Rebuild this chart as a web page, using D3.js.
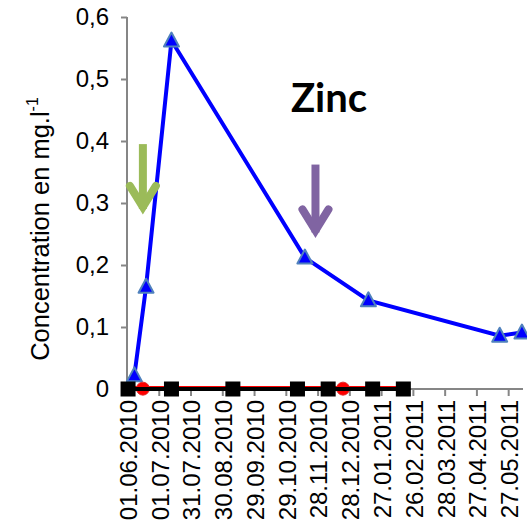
<!DOCTYPE html>
<html>
<head>
<meta charset="utf-8">
<script src="https://cdnjs.cloudflare.com/ajax/libs/d3/7.8.5/d3.min.js"></script>
<style>
  body { margin: 0; background: #fff; }
  svg { display: block; }
  text { font-family: "Liberation Sans", Arial, sans-serif; }
</style>
</head>
<body>
<svg id="chart" width="527" height="528"></svg>
<script>
(function() {
	"use strict";

	// data
	var blueDates = ["08.06.2010", "19.06.2010", "13.07.2010", "16.11.2010", "15.01.2011", "19.05.2011", "09.06.2011"],
		blueValues = [0.022, 0.165, 0.562, 0.212, 0.143, 0.086, 0.091],
		redDates = ["02.06.2010", "16.06.2010", "13.07.2010", "09.09.2010", "09.11.2010", "08.12.2010", "22.12.2010", "19.01.2011", "17.02.2011"],
		redValues = [0.003, 0.003, 0.003, 0.003, 0.003, 0.003, 0.003, 0.003, 0.003],
		redMarked = [false, true, false, false, false, false, true, false, false],
		blackDates = ["02.06.2010", "13.07.2010", "09.09.2010", "09.11.2010", "08.12.2010", "19.01.2011", "17.02.2011"],
		blackValues = [0, 0, 0, 0, 0, 0, 0],
		xTickLabels = ["01.06.2010", "01.07.2010", "31.07.2010", "30.08.2010", "29.09.2010", "29.10.2010",
			"28.11.2010", "28.12.2010", "27.01.2011", "26.02.2011", "28.03.2011", "27.04.2011", "27.05.2011"],
		yTicks = [0, 0.1, 0.2, 0.3, 0.4, 0.5, 0.6],
		arrowDates = ["16.06.2010", "26.11.2010"],
		arrowTop = [0.395, 0.362],
		arrowTip = [0.284, 0.246],
		arrowColors = ["#9bbb59", "#8064a2"];

	var parse = d3.timeParse("%d.%m.%Y"),
		svg = d3.select("#chart"),
		left = 127,
		bottom = 389,
		top = 17,
		right = 523;

	var x = d3.scaleTime()
		.domain([parse("01.06.2010"), parse("10.06.2011")])
		.range([left, right]);

	var y = d3.scaleLinear()
		.domain([0, 0.6])
		.range([bottom, top]);

	var grey = "#868686";

	// y axis
	var yAxis = svg.append("g")
		.attr("transform", "translate(" + left + ",0)")
		.call(d3.axisLeft(y)
			.tickValues(yTicks)
			.tickSize(6)
			.tickPadding(12)
			.tickFormat(function(d) { return d === 0 ? "0" : d3.format(".1f")(d).replace(".", ","); }));
	yAxis.select(".domain").attr("stroke", grey).attr("stroke-width", 2).attr("d", "M0," + top + "V" + bottom);
	yAxis.selectAll(".tick line").attr("stroke", grey).attr("stroke-width", 2);
	yAxis.selectAll(".tick text")
		.attr("fill", "#000")
		.style("font-size", "24px")
		.style("font-family", "Liberation Sans, Arial, sans-serif");

	// x axis
	var xAxis = svg.append("g")
		.attr("transform", "translate(0," + bottom + ")")
		.call(d3.axisBottom(x)
			.tickValues(xTickLabels.map(parse))
			.tickSize(7)
			.tickFormat(d3.timeFormat("%d.%m.%Y")));
	xAxis.select(".domain").attr("stroke", grey).attr("stroke-width", 2).attr("d", "M" + left + ",0H" + right);
	xAxis.selectAll(".tick line").attr("stroke", grey).attr("stroke-width", 2);
	xAxis.selectAll(".tick text")
		.attr("fill", "#000")
		.attr("transform", "rotate(-90)")
		.attr("text-anchor", "end")
		.attr("x", -11)
		.attr("y", 1)
		.attr("dy", "0.35em")
		.style("font-size", "24px")
		.style("font-family", "Liberation Sans, Arial, sans-serif");

	// y axis title
	var yTitle = svg.append("text")
		.attr("transform", "translate(40,229) rotate(-90)")
		.attr("text-anchor", "middle")
		.attr("dy", "0.35em")
		.style("font-size", "25.5px");
	yTitle.append("tspan").text("Concentration en mg.l");
	yTitle.append("tspan").attr("dy", "-0.7em").style("font-size", "16px").text("-1");

	// chart title
	svg.append("text")
		.attr("x", 329)
		.attr("y", 112)
		.attr("text-anchor", "middle")
		.style("font-size", "40px")
		.style("font-weight", "bold")
		.style("font-family", "Lato, 'Open Sans', sans-serif")
		.text("Zinc");

	function series(dates, values) {
		return dates.map(function(d, i) { return { date: parse(d), value: values[i], i: i }; });
	}

	var line = d3.line()
		.x(function(d) { return x(d.date); })
		.y(function(d) { return y(d.value); });

	var plot = svg.append("g");

	// blue series
	var blue = series(blueDates, blueValues);
	plot.append("path")
		.datum(blue)
		.attr("fill", "none")
		.attr("stroke", "#0000ff")
		.attr("stroke-width", 4)
		.attr("d", line);
	plot.selectAll("path.tri")
		.data(blue)
		.enter().append("path")
		.attr("class", "tri")
		.attr("transform", function(d) { return "translate(" + x(d.date) + "," + y(d.value) + ")"; })
		.attr("d", "M0,-8L7.5,6L-7.5,6Z")
		.attr("fill", "#0000ff")
		.attr("stroke", "#4f81bd")
		.attr("stroke-width", 2)
		.attr("stroke-linejoin", "round");

	// red series
	var red = series(redDates, redValues);
	plot.append("path")
		.datum(red)
		.attr("fill", "none")
		.attr("stroke", "#ff0000")
		.attr("stroke-width", 2.5)
		.attr("d", line);
	plot.selectAll("circle.red")
		.data(red.filter(function(d) { return redMarked[d.i]; }))
		.enter().append("circle")
		.attr("class", "red")
		.attr("cx", function(d) { return x(d.date); })
		.attr("cy", function(d) { return y(d.value) + 1.5; })
		.attr("r", 6.5)
		.attr("fill", "#ff0000")
		.attr("stroke", "#e32a2a")
		.attr("stroke-width", 1);

	// black series
	var black = series(blackDates, blackValues);
	plot.append("path")
		.datum(black)
		.attr("fill", "none")
		.attr("stroke", "#000")
		.attr("stroke-width", 4)
		.attr("d", line);
	plot.selectAll("rect.sq")
		.data(black)
		.enter().append("rect")
		.attr("class", "sq")
		.attr("x", function(d) { return x(d.date) - 7.5; })
		.attr("y", function(d) { return y(d.value) - 7.5; })
		.attr("width", 15)
		.attr("height", 15)
		.attr("fill", "#000");

	// annotation arrows
	arrowDates.forEach(function(d, i) {
		var cx = x(parse(d)),
			y0 = y(arrowTop[i]),
			y1 = y(arrowTip[i]),
			g = svg.append("g")
				.attr("stroke", arrowColors[i])
				.attr("fill", "none")
				.attr("stroke-width", 8);
		g.append("line")
			.attr("x1", cx).attr("x2", cx)
			.attr("y1", y0).attr("y2", y1 - 4);
		g.append("path")
			.attr("stroke-linecap", "round")
			.attr("stroke-linejoin", "miter")
			.attr("d", "M" + (cx - 13) + "," + (y1 - 27) + "L" + cx + "," + (y1 - 6) + "L" + (cx + 13) + "," + (y1 - 27));
	});
})();
</script>
</body>
</html>
